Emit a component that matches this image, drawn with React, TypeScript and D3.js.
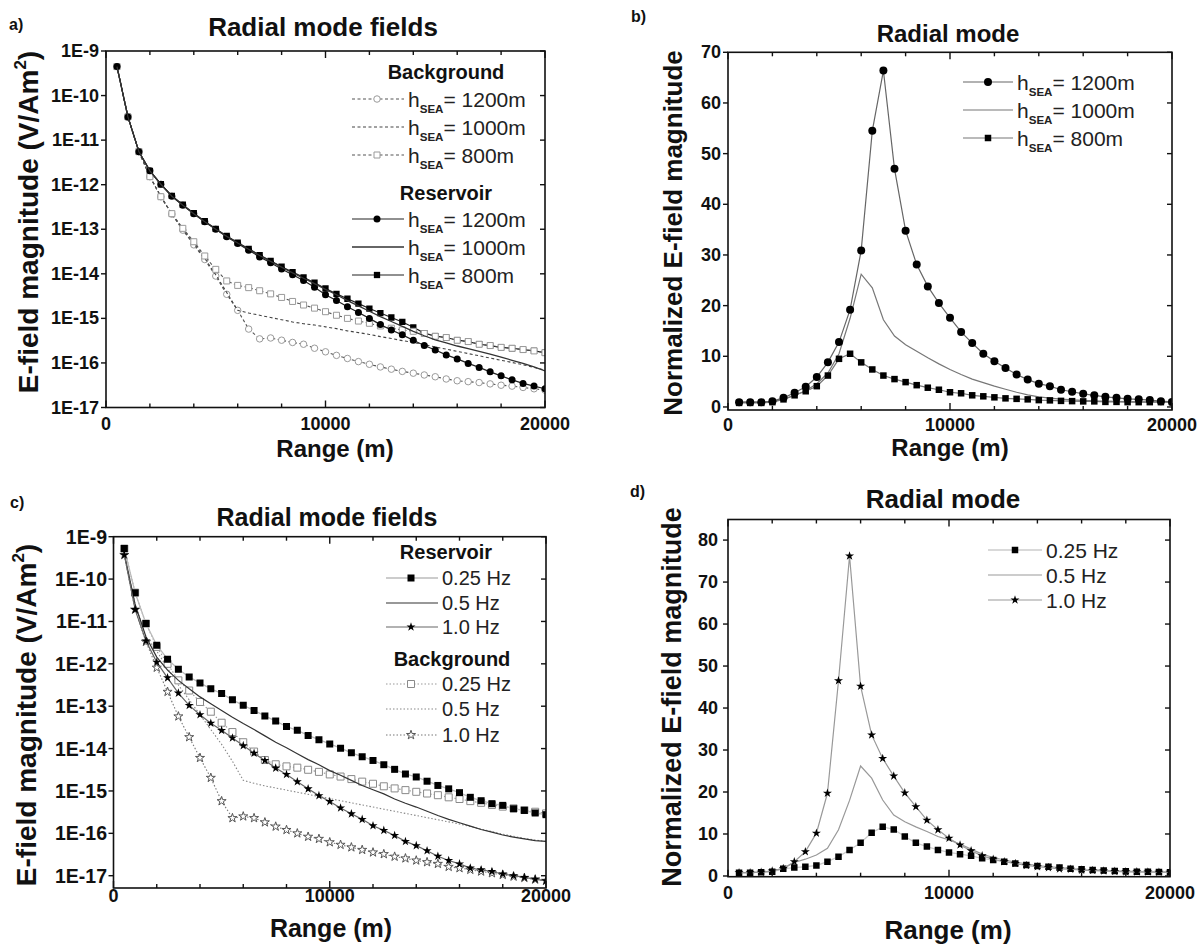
import React from 'react';
import * as d3 from 'd3';

const FONT = '"Liberation Sans", Arial, Helvetica, sans-serif';

// source-receiver range (m), one sample every 500 m
const rangeM = [
  500, 1000, 1500, 2000, 2500, 3000, 3500, 4000, 4500, 5000,
  5500, 6000, 6500, 7000, 7500, 8000, 8500, 9000, 9500, 10000,
  10500, 11000, 11500, 12000, 12500, 13000, 13500, 14000, 14500, 15000,
  15500, 16000, 16500, 17000, 17500, 18000, 18500, 19000, 19500, 20000,
];

// panel a: log10 of E-field magnitude (V/Am^2)
const aBg1200 = [-9.35, -10.48, -11.26, -11.82, -12.27, -12.66, -13.02, -13.35, -13.68, -14.05, -14.46, -14.82, -15.24, -15.46, -15.44, -15.49, -15.54, -15.58, -15.67, -15.75, -15.83, -15.9, -15.97, -16.03, -16.09, -16.14, -16.19, -16.23, -16.27, -16.31, -16.36, -16.4, -16.42, -16.44, -16.47, -16.5, -16.52, -16.55, -16.58, -16.61];
const aBg1000 = [-9.35, -10.48, -11.26, -11.82, -12.27, -12.66, -13.0, -13.32, -13.65, -14.02, -14.42, -14.82, -14.88, -14.93, -14.98, -15.03, -15.08, -15.12, -15.15, -15.19, -15.23, -15.28, -15.32, -15.36, -15.41, -15.45, -15.5, -15.54, -15.59, -15.64, -15.69, -15.74, -15.79, -15.84, -15.89, -15.94, -15.99, -16.04, -16.1, -16.16];
const aBg800 = [-9.35, -10.48, -11.26, -11.82, -12.27, -12.65, -12.98, -13.28, -13.6, -13.9, -14.16, -14.26, -14.31, -14.38, -14.45, -14.53, -14.62, -14.7, -14.77, -14.85, -14.93, -15.0, -15.06, -15.11, -15.17, -15.22, -15.26, -15.29, -15.34, -15.4, -15.43, -15.49, -15.52, -15.58, -15.61, -15.65, -15.67, -15.7, -15.73, -15.77];
const aRes1200 = [-9.35, -10.48, -11.26, -11.69, -11.99, -12.26, -12.46, -12.65, -12.83, -13.0, -13.17, -13.32, -13.47, -13.62, -13.75, -13.89, -14.02, -14.15, -14.3, -14.47, -14.6, -14.74, -14.87, -15.0, -15.14, -15.26, -15.37, -15.49, -15.61, -15.71, -15.82, -15.91, -16.01, -16.1, -16.2, -16.29, -16.38, -16.46, -16.52, -16.58];
const aRes1000 = [-9.35, -10.48, -11.26, -11.69, -11.99, -12.26, -12.46, -12.65, -12.83, -13.0, -13.16, -13.31, -13.45, -13.59, -13.72, -13.85, -13.98, -14.1, -14.22, -14.35, -14.47, -14.6, -14.72, -14.84, -14.96, -15.07, -15.18, -15.29, -15.39, -15.48, -15.55, -15.62, -15.68, -15.74, -15.8, -15.87, -15.94, -16.01, -16.09, -16.18];
const aRes800 = [-9.35, -10.48, -11.26, -11.69, -11.99, -12.25, -12.45, -12.64, -12.82, -12.99, -13.15, -13.3, -13.44, -13.58, -13.71, -13.84, -13.96, -14.08, -14.2, -14.33, -14.45, -14.56, -14.67, -14.78, -14.88, -14.98, -15.08, -15.2, -15.33, -15.4, -15.43, -15.49, -15.52, -15.58, -15.61, -15.65, -15.67, -15.7, -15.73, -15.77];

// panel b: normalized magnitude (reservoir / background)
const bH1200 = [0.95, 0.95, 0.95, 1.15, 1.8, 2.8, 4.0, 5.9, 8.8, 12.8, 19.2, 30.9, 54.5, 66.4, 47.0, 34.8, 28.1, 23.8, 20.5, 17.6, 14.8, 12.6, 10.5, 9.0, 7.7, 6.4, 5.4, 4.6, 4.1, 3.4, 3.0, 2.6, 2.3, 2.0, 1.8, 1.6, 1.5, 1.35, 1.15, 1.0];
const bH1000 = [0.95, 0.95, 0.95, 1.1, 1.5, 2.3, 3.2, 4.6, 6.7, 10.5, 17.5, 26.2, 23.5, 17.2, 14.0, 12.3, 11.0, 9.7, 8.5, 7.4, 6.4, 5.5, 4.8, 4.1, 3.5, 2.9, 2.4, 2.0, 1.75, 1.55, 1.4, 1.3, 1.2, 1.15, 1.1, 1.05, 1.0, 1.0, 1.0, 1.0];
const bH800 = [0.8, 0.8, 0.8, 0.95, 1.5, 2.3, 3.1, 4.1, 6.2, 9.5, 10.5, 8.8, 7.4, 6.2, 5.5, 4.9, 4.3, 3.8, 3.4, 2.9, 2.7, 2.3, 2.1, 1.9, 1.7, 1.6, 1.5, 1.35, 1.3, 1.2, 1.15, 1.1, 1.1, 1.0, 1.0, 0.95, 0.95, 0.95, 0.95, 0.95];

// panel c: log10 of E-field magnitude (V/Am^2) by frequency
const cRes025 = [-9.28, -10.32, -11.05, -11.56, -11.89, -12.13, -12.31, -12.45, -12.59, -12.7, -12.85, -12.98, -13.1, -13.23, -13.35, -13.48, -13.57, -13.69, -13.79, -13.89, -13.99, -14.1, -14.19, -14.28, -14.38, -14.49, -14.6, -14.67, -14.77, -14.87, -14.95, -15.04, -15.15, -15.23, -15.3, -15.34, -15.42, -15.46, -15.52, -15.56];
const cRes05 = [-9.4, -10.6, -11.36, -11.84, -12.15, -12.39, -12.59, -12.78, -12.94, -13.1, -13.26, -13.41, -13.55, -13.7, -13.85, -13.98, -14.12, -14.26, -14.38, -14.52, -14.63, -14.75, -14.87, -14.97, -15.07, -15.19, -15.29, -15.38, -15.48, -15.58, -15.67, -15.75, -15.83, -15.91, -15.97, -16.04, -16.09, -16.13, -16.17, -16.19];
const cRes10 = [-9.43, -10.72, -11.46, -11.96, -12.33, -12.69, -12.98, -13.2, -13.4, -13.57, -13.75, -13.93, -14.11, -14.28, -14.46, -14.61, -14.78, -14.95, -15.11, -15.25, -15.4, -15.54, -15.67, -15.82, -15.93, -16.05, -16.19, -16.29, -16.41, -16.54, -16.64, -16.72, -16.82, -16.86, -16.9, -16.96, -17.0, -17.04, -17.08, -17.12];
const cBg025 = [-9.28, -10.32, -11.05, -11.6, -12.0, -12.39, -12.63, -12.9, -13.13, -13.39, -13.61, -13.85, -14.07, -14.27, -14.37, -14.42, -14.45, -14.5, -14.55, -14.61, -14.66, -14.72, -14.78, -14.83, -14.89, -14.94, -14.98, -15.02, -15.06, -15.1, -15.15, -15.19, -15.24, -15.28, -15.33, -15.37, -15.41, -15.45, -15.49, -15.53];
const cBg05 = [-9.4, -10.6, -11.36, -11.7, -12.1, -12.5, -12.85, -13.2, -13.55, -13.9, -14.3, -14.75, -14.82, -14.88, -14.93, -14.98, -15.03, -15.08, -15.13, -15.18, -15.23, -15.28, -15.33, -15.38, -15.43, -15.48, -15.53, -15.58, -15.63, -15.68, -15.73, -15.78, -15.84, -15.9, -15.96, -16.02, -16.07, -16.12, -16.16, -16.19];
const cBg10 = [-9.43, -10.72, -11.48, -12.09, -12.66, -13.24, -13.73, -14.22, -14.69, -15.24, -15.64, -15.6, -15.64, -15.74, -15.84, -15.92, -16.0, -16.08, -16.13, -16.21, -16.27, -16.33, -16.39, -16.45, -16.49, -16.55, -16.59, -16.64, -16.68, -16.72, -16.79, -16.82, -16.86, -16.9, -16.94, -16.98, -17.02, -17.05, -17.09, -17.12];

// panel d: normalized magnitude by frequency
const dF025 = [0.8, 0.8, 0.9, 1.0, 1.7, 2.0, 2.2, 2.5, 3.4, 4.6, 6.2, 7.9, 10.3, 11.7, 11.1, 9.4, 7.9, 7.0, 6.2, 5.6, 5.2, 4.8, 4.2, 3.8, 3.4, 3.0, 2.6, 2.4, 2.2, 2.0, 1.7, 1.6, 1.4, 1.3, 1.2, 1.1, 1.0, 1.0, 0.95, 0.9];
const dF05 = [0.8, 0.8, 0.9, 1.1, 1.8, 3.2, 4.0, 5.0, 6.6, 11.0, 18.0, 26.2, 23.3, 18.1, 14.5, 12.9, 11.7, 10.6, 9.4, 8.6, 7.6, 6.4, 5.2, 4.4, 3.8, 3.3, 2.9, 2.5, 2.2, 2.0, 1.8, 1.6, 1.5, 1.35, 1.25, 1.15, 1.05, 1.0, 0.95, 0.9];
const dF10 = [0.8, 0.8, 0.9, 1.2, 1.8, 3.4, 5.8, 10.2, 19.7, 46.5, 76.2, 45.2, 33.6, 28.0, 23.8, 19.8, 16.5, 13.3, 11.0, 9.0, 7.4, 6.0, 4.8, 4.0, 3.4, 3.0, 2.5, 2.2, 2.0, 1.7, 1.6, 1.4, 1.3, 1.2, 1.1, 1.0, 1.0, 0.95, 0.9, 0.9];

// ticks
const xMajor = [0, 10000, 20000];
const xMinor = [2000, 4000, 6000, 8000, 12000, 14000, 16000, 18000];
const logExp = [-9, -10, -11, -12, -13, -14, -15, -16, -17];
const logLabels = ['1E-9', '1E-10', '1E-11', '1E-12', '1E-13', '1E-14', '1E-15', '1E-16', '1E-17'];
const bTicks = [0, 10, 20, 30, 40, 50, 60, 70];
const dTicks = [0, 10, 20, 30, 40, 50, 60, 70, 80];

type Marker = 'circle' | 'square' | 'star' | 'none';

interface Series {
  values: number[];
  stroke: string;
  width: number;
  dash?: string;
  marker: Marker;
  fill?: string;
  mStroke?: string;
  mSize?: number;
}

interface LegendRow { s: Series; y: number; label: string; sub?: string; rest?: string }

interface PanelCfg {
  id: string;
  box: { x0: number; x1: number; y0: number; y1: number };
  log: boolean;
  yDomain: [number, number];
  yTicks: number[];
  yLabels: string[];
  yTickX: number;
  yTickFont: number;
  xTickY: number;
  series: Series[];
  letter: { text: string; x: number; y: number };
  title: { x: number; y: number; size: number };
  titleText: string;
  yTitle: { x: number; y: number; size: number };
  yTitleSup: boolean;
  yTitleText: string;
  xTitle: { x: number; y: number; size: number };
  legend: {
    headers: { text: string; x: number; y: number }[];
    rows: LegendRow[];
    lx0: number; lx1: number; mx: number; tx: number; size: number; hsize: number;
  };
}

function symbolPath(m: Marker, size: number) {
  if (m === 'circle') return d3.symbol().type(d3.symbolCircle).size(Math.PI * (size / 2) ** 2)()!;
  if (m === 'square') return d3.symbol().type(d3.symbolSquare).size(size * size)()!;
  if (m === 'star') return d3.symbol().type(d3.symbolStar).size((size * size) / 3.2)()!;
  return '';
}

function Panel({ cfg }: { cfg: PanelCfg }) {
  const { box } = cfg;
  const x = d3.scaleLinear().domain([0, 20000]).range([box.x0, box.x1]);
  const y = cfg.log
    ? d3.scaleLog().domain(cfg.yDomain).range([box.y1, box.y0])
    : d3.scaleLinear().domain(cfg.yDomain).range([box.y1, box.y0]);
  const val = (v: number) => (cfg.log ? Math.pow(10, v) : v);
  const line = d3.line<number>().x((_, i) => x(rangeM[i])).y((v) => y(val(v)));
  const clip = `clip-${cfg.id}`;
  const lg = cfg.legend;

  return (
    <g fontFamily={FONT}>
      <defs>
        <clipPath id={clip}>
          <rect x={box.x0} y={box.y0} width={box.x1 - box.x0} height={box.y1 - box.y0} />
        </clipPath>
      </defs>
      <g clipPath={`url(#${clip})`}>
        {cfg.series.map((s, si) => (
          <g key={si}>
            <path d={line(s.values) || ''} fill="none" stroke={s.stroke} strokeWidth={s.width} strokeDasharray={s.dash} />
            {s.marker !== 'none' &&
              s.values.map((v, i) => (
                <path key={i} d={symbolPath(s.marker, s.mSize || 7)} transform={`translate(${x(rangeM[i])},${y(val(v))})`}
                  fill={s.fill} stroke={s.mStroke || 'none'} strokeWidth={1} />
              ))}
          </g>
        ))}
      </g>
      <rect x={box.x0} y={box.y0} width={box.x1 - box.x0} height={box.y1 - box.y0} fill="none" stroke="#111" strokeWidth={1.6} />
      {/* y ticks: outward on left, inward on right */}
      {cfg.yTicks.map((t, i) => {
        const yy = y(val(t));
        return (
          <g key={i}>
            <line x1={box.x0 - 5} x2={box.x0} y1={yy} y2={yy} stroke="#111" strokeWidth={1.4} />
            <line x1={box.x1 - 5} x2={box.x1} y1={yy} y2={yy} stroke="#111" strokeWidth={1.4} />
            <text x={cfg.yTickX} y={yy} textAnchor="end" dominantBaseline="central" fontWeight="bold" fontSize={cfg.yTickFont} fill="#111">
              {cfg.yLabels[i]}
            </text>
          </g>
        );
      })}
      {/* x ticks: inward on top and bottom */}
      {xMajor.concat(xMinor).map((t, i) => {
        const len = xMajor.includes(t) ? 7 : 4;
        const xx = x(t);
        return (
          <g key={i}>
            <line x1={xx} x2={xx} y1={box.y1} y2={box.y1 - len} stroke="#111" strokeWidth={1.4} />
            <line x1={xx} x2={xx} y1={box.y0} y2={box.y0 + len} stroke="#111" strokeWidth={1.4} />
          </g>
        );
      })}
      {xMajor.map((t, i) => (
        <text key={i} x={x(t)} y={cfg.xTickY} textAnchor="middle" fontWeight="bold" fontSize={18} fill="#111">
          {t}
        </text>
      ))}
      <text x={cfg.letter.x} y={cfg.letter.y} fontWeight="bold" fontSize={16} fill="#111">{cfg.letter.text}</text>
      <text x={cfg.title.x} y={cfg.title.y} textAnchor="middle" fontWeight="bold" fontSize={cfg.title.size} fill="#111">
        {cfg.titleText}
      </text>
      <text transform={`translate(${cfg.yTitle.x},${cfg.yTitle.y}) rotate(-90)`} textAnchor="middle" fontWeight="bold" fontSize={cfg.yTitle.size} fill="#111">
        {cfg.yTitleSup ? (
          <>
            {cfg.yTitleText}
            <tspan fontSize={cfg.yTitle.size * 0.6} dy={-cfg.yTitle.size * 0.42}>2</tspan>
            <tspan dy={cfg.yTitle.size * 0.42}>)</tspan>
          </>
        ) : (
          cfg.yTitleText
        )}
      </text>
      <text x={cfg.xTitle.x} y={cfg.xTitle.y} textAnchor="middle" fontWeight="bold" fontSize={cfg.xTitle.size} fill="#111">
        Range (m)
      </text>
      {/* legend */}
      {lg.headers.map((h, i) => (
        <text key={i} x={h.x} y={h.y} textAnchor="middle" fontWeight="bold" fontSize={lg.hsize} fill="#111">{h.text}</text>
      ))}
      {lg.rows.map((r, i) => (
        <g key={i}>
          <line x1={lg.lx0} x2={lg.lx1} y1={r.y} y2={r.y} stroke={r.s.stroke} strokeWidth={r.s.width} strokeDasharray={r.s.dash} />
          {r.s.marker !== 'none' && (
            <path d={symbolPath(r.s.marker, r.s.mSize || 7)} transform={`translate(${lg.mx},${r.y})`} fill={r.s.fill} stroke={r.s.mStroke || 'none'} strokeWidth={1} />
          )}
          <text x={lg.tx} y={r.y + lg.size * 0.36} fontSize={lg.size} fill="#222">
            {r.label}
            {r.sub && (
              <>
                <tspan fontSize={lg.size * 0.55} fontWeight="bold" dy={lg.size * 0.3}>{r.sub}</tspan>
                <tspan dy={-lg.size * 0.3}>{r.rest}</tspan>
              </>
            )}
          </text>
        </g>
      ))}
    </g>
  );
}

// series styles
const sABg1200: Series = { values: aBg1200, stroke: '#555', width: 1.1, dash: '3,2.5', marker: 'circle', fill: '#fff', mStroke: '#9a9a9a', mSize: 6.5 };
const sABg1000: Series = { values: aBg1000, stroke: '#444', width: 1.1, dash: '3,2.5', marker: 'none' };
const sABg800: Series = { values: aBg800, stroke: '#555', width: 1.1, dash: '3,2.5', marker: 'square', fill: '#fff', mStroke: '#9a9a9a', mSize: 6 };
const sARes1200: Series = { values: aRes1200, stroke: '#222', width: 1.2, marker: 'circle', fill: '#000', mSize: 7 };
const sARes1000: Series = { values: aRes1000, stroke: '#333', width: 1.3, marker: 'none' };
const sARes800: Series = { values: aRes800, stroke: '#222', width: 1.2, marker: 'square', fill: '#000', mSize: 6.3 };

const sB1200: Series = { values: bH1200, stroke: '#666', width: 1.2, marker: 'circle', fill: '#000', mSize: 8 };
const sB1000: Series = { values: bH1000, stroke: '#777', width: 1.2, marker: 'none' };
const sB800: Series = { values: bH800, stroke: '#777', width: 1.2, marker: 'square', fill: '#000', mSize: 6.5 };

const sCRes025: Series = { values: cRes025, stroke: '#bbb', width: 1.3, marker: 'square', fill: '#000', mSize: 7 };
const sCRes05: Series = { values: cRes05, stroke: '#333', width: 1.2, marker: 'none' };
const sCRes10: Series = { values: cRes10, stroke: '#666', width: 1.2, marker: 'star', fill: '#000', mSize: 9 };
const sCBg025: Series = { values: cBg025, stroke: '#999', width: 1.1, dash: '1.5,2', marker: 'square', fill: '#fff', mStroke: '#8a8a8a', mSize: 7 };
const sCBg05: Series = { values: cBg05, stroke: '#888', width: 1.1, dash: '1.5,2', marker: 'none' };
const sCBg10: Series = { values: cBg10, stroke: '#777', width: 1.1, dash: '1.5,2', marker: 'star', fill: '#fff', mStroke: '#555', mSize: 9 };

const sD025: Series = { values: dF025, stroke: '#ccc', width: 1.3, marker: 'square', fill: '#000', mSize: 6.5 };
const sD05: Series = { values: dF05, stroke: '#999', width: 1.2, marker: 'none' };
const sD10: Series = { values: dF10, stroke: '#999', width: 1.2, marker: 'star', fill: '#000', mSize: 9 };

const panelA: PanelCfg = {
  id: 'a',
  box: { x0: 106, x1: 545, y0: 51, y1: 407.5 },
  log: true,
  yDomain: [1e-17, 1e-9],
  yTicks: logExp,
  yLabels: logLabels,
  yTickX: 99,
  yTickFont: 18,
  xTickY: 430,
  series: [sARes800, sABg1200, sABg1000, sABg800, sARes1200, sARes1000],
  letter: { text: 'a)', x: 9, y: 30 },
  title: { x: 323, y: 36, size: 26 },
  titleText: 'Radial mode fields',
  yTitle: { x: 38, y: 222, size: 28 },
  yTitleSup: true,
  yTitleText: 'E-field magnitude (V/Am',
  xTitle: { x: 335, y: 457, size: 24 },
  legend: {
    headers: [
      { text: 'Background', x: 446, y: 79 },
      { text: 'Reservoir', x: 446, y: 200 },
    ],
    rows: [
      { s: sABg1200, y: 99, label: 'h', sub: 'SEA', rest: '= 1200m' },
      { s: sABg1000, y: 127, label: 'h', sub: 'SEA', rest: '= 1000m' },
      { s: sABg800, y: 155, label: 'h', sub: 'SEA', rest: '= 800m' },
      { s: sARes1200, y: 219, label: 'h', sub: 'SEA', rest: '= 1200m' },
      { s: sARes1000, y: 247, label: 'h', sub: 'SEA', rest: '= 1000m' },
      { s: sARes800, y: 275, label: 'h', sub: 'SEA', rest: '= 800m' },
    ],
    lx0: 352, lx1: 404, mx: 377, tx: 408, size: 21, hsize: 20,
  },
};

const panelB: PanelCfg = {
  id: 'b',
  box: { x0: 728, x1: 1172, y0: 52.3, y1: 410 },
  log: false,
  yDomain: [-0.6, 70],
  yTicks: bTicks,
  yLabels: bTicks.map(String),
  yTickX: 721,
  yTickFont: 18,
  xTickY: 431,
  series: [sB1000, sB800, sB1200],
  letter: { text: 'b)', x: 631, y: 22 },
  title: { x: 948, y: 42, size: 24 },
  titleText: 'Radial mode',
  yTitle: { x: 682, y: 233, size: 26 },
  yTitleSup: false,
  yTitleText: 'Normalized E-field magnitude',
  xTitle: { x: 950, y: 456, size: 24 },
  legend: {
    headers: [],
    rows: [
      { s: sB1200, y: 82, label: 'h', sub: 'SEA', rest: '= 1200m' },
      { s: sB1000, y: 110, label: 'h', sub: 'SEA', rest: '= 1000m' },
      { s: sB800, y: 138, label: 'h', sub: 'SEA', rest: '= 800m' },
    ],
    lx0: 963, lx1: 1013, mx: 988, tx: 1017, size: 21, hsize: 20,
  },
};

const panelC: PanelCfg = {
  id: 'c',
  box: { x0: 113.5, x1: 546, y0: 536.7, y1: 888 },
  log: true,
  yDomain: [Math.pow(10, -17.29), 1e-9],
  yTicks: logExp,
  yLabels: logLabels,
  yTickX: 107,
  yTickFont: 19.5,
  xTickY: 902,
  series: [sCBg05, sCBg025, sCBg10, sCRes05, sCRes025, sCRes10],
  letter: { text: 'c)', x: 10, y: 508 },
  title: { x: 327, y: 525.5, size: 25 },
  titleText: 'Radial mode fields',
  yTitle: { x: 36, y: 715, size: 28 },
  yTitleSup: true,
  yTitleText: 'E-field magnitude (V/Am',
  xTitle: { x: 331, y: 937, size: 25 },
  legend: {
    headers: [
      { text: 'Reservoir', x: 446, y: 559 },
      { text: 'Background', x: 452, y: 666 },
    ],
    rows: [
      { s: sCRes025, y: 578, label: '0.25 Hz' },
      { s: sCRes05, y: 603, label: '0.5 Hz' },
      { s: sCRes10, y: 627, label: '1.0 Hz' },
      { s: sCBg025, y: 684, label: '0.25 Hz' },
      { s: sCBg05, y: 709, label: '0.5 Hz' },
      { s: sCBg10, y: 735, label: '1.0 Hz' },
    ],
    lx0: 386, lx1: 438, mx: 411, tx: 442, size: 20, hsize: 20,
  },
};

const panelD: PanelCfg = {
  id: 'd',
  box: { x0: 728, x1: 1170, y0: 519.5, y1: 876.7 },
  log: false,
  yDomain: [-0.17, 84.9],
  yTicks: dTicks,
  yLabels: dTicks.map(String),
  yTickX: 718,
  yTickFont: 18,
  xTickY: 899,
  series: [sD05, sD025, sD10],
  letter: { text: 'd)', x: 630, y: 497 },
  title: { x: 943, y: 507.5, size: 26 },
  titleText: 'Radial mode',
  yTitle: { x: 681, y: 697, size: 27 },
  yTitleSup: false,
  yTitleText: 'Normalized E-field magnitude',
  xTitle: { x: 948, y: 939, size: 26 },
  legend: {
    headers: [],
    rows: [
      { s: sD025, y: 550, label: '0.25 Hz' },
      { s: sD05, y: 575, label: '0.5 Hz' },
      { s: sD10, y: 600, label: '1.0 Hz' },
    ],
    lx0: 988, lx1: 1042, mx: 1015, tx: 1046, size: 21, hsize: 20,
  },
};

export default function App() {
  return (
    <svg width={1198} height={945} viewBox="0 0 1198 945"
      style={{ position: 'absolute', left: 0, top: 0, background: '#fff' }}>
      <rect x={0} y={0} width={1198} height={945} fill="#fff" />
      <Panel cfg={panelA} />
      <Panel cfg={panelB} />
      <Panel cfg={panelC} />
      <Panel cfg={panelD} />
    </svg>
  );
}
